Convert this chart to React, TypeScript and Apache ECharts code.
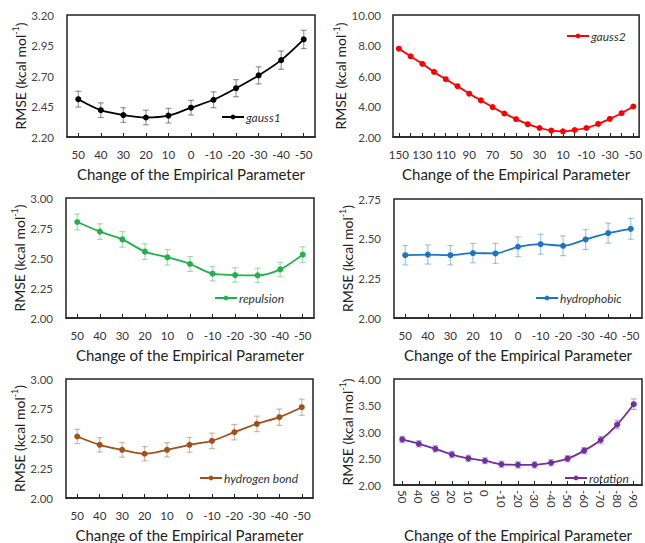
import React, { useEffect, useRef } from "react";
import * as echarts from "echarts";

const cats11 = ["50", "40", "30", "20", "10", "0", "-10", "-20", "-30", "-40", "-50"];
const cats21 = ["150", "140", "130", "120", "110", "100", "90", "80", "70", "60", "50", "40", "30", "20", "10", "0", "-10", "-20", "-30", "-40", "-50"];
const cats15 = ["50", "40", "30", "20", "10", "0", "-10", "-20", "-30", "-40", "-50", "-60", "-70", "-80", "-90"];

const gauss1 = [2.51, 2.42, 2.38, 2.36, 2.375, 2.44, 2.505, 2.6, 2.705, 2.83, 3.0];
const gauss1Err = [0.065, 0.06, 0.06, 0.06, 0.06, 0.06, 0.065, 0.07, 0.07, 0.075, 0.075];
const gauss2 = [7.79, 7.29, 6.8, 6.27, 5.79, 5.33, 4.84, 4.4, 3.96, 3.54, 3.17, 2.84, 2.59, 2.42, 2.37, 2.46, 2.59, 2.86, 3.19, 3.56, 4.0];
const repulsion = [2.8, 2.72, 2.655, 2.553, 2.506, 2.45, 2.369, 2.358, 2.355, 2.405, 2.528];
const repulsionErr = [0.066, 0.065, 0.065, 0.065, 0.065, 0.062, 0.06, 0.06, 0.06, 0.06, 0.066];
const hydrophobic = [2.396, 2.4, 2.396, 2.409, 2.407, 2.449, 2.465, 2.455, 2.495, 2.535, 2.562];
const hydrophobicErr = [0.061, 0.06, 0.061, 0.061, 0.063, 0.062, 0.063, 0.062, 0.063, 0.063, 0.066];
const hbond = [2.517, 2.447, 2.405, 2.372, 2.405, 2.447, 2.48, 2.553, 2.623, 2.679, 2.763];
const hbondErr = [0.06, 0.06, 0.062, 0.06, 0.06, 0.062, 0.065, 0.065, 0.065, 0.068, 0.068];
const rotation = [2.86, 2.777, 2.682, 2.575, 2.503, 2.458, 2.391, 2.38, 2.38, 2.42, 2.497, 2.648, 2.849, 3.14, 3.525];
const rotationErr = [0.06, 0.06, 0.06, 0.06, 0.06, 0.055, 0.06, 0.06, 0.06, 0.06, 0.06, 0.06, 0.07, 0.08, 0.1];

const FONT = "Lato";

type Panel = {
  name: string;
  color: string;
  errColor: string;
  cats: string[];
  values: number[];
  errs: number[] | null;
  yMin: number;
  yMax: number;
  yInt: number;
  grid: { left: number; top: number; width: number; height: number };
  legend: { left: number; top: number };
  labelInterval: number;
  rotate: number;
};

const panels: Panel[] = [
  {
    name: "gauss1", color: "#000000", errColor: "rgba(0,0,0,0.4)", cats: cats11, values: gauss1, errs: gauss1Err,
    yMin: 2.2, yMax: 3.2, yInt: 0.25, grid: { left: 67, top: 15, width: 248, height: 122 },
    legend: { left: 221, top: 111 }, labelInterval: 0, rotate: 0,
  },
  {
    name: "gauss2", color: "#ff0000", errColor: "rgba(255,0,0,0.4)", cats: cats21, values: gauss2, errs: null,
    yMin: 2, yMax: 10, yInt: 2, grid: { left: 393, top: 15, width: 249, height: 122 },
    legend: { left: 566, top: 30 }, labelInterval: 1, rotate: 0,
  },
  {
    name: "repulsion", color: "#22b14c", errColor: "rgba(34,177,76,0.4)", cats: cats11, values: repulsion, errs: repulsionErr,
    yMin: 2, yMax: 3, yInt: 0.25, grid: { left: 66, top: 198, width: 248, height: 120 },
    legend: { left: 214, top: 292 }, labelInterval: 0, rotate: 0,
  },
  {
    name: "hydrophobic", color: "#1b75c4", errColor: "rgba(27,117,196,0.4)", cats: cats11, values: hydrophobic, errs: hydrophobicErr,
    yMin: 2, yMax: 2.75, yInt: 0.25, grid: { left: 394, top: 199, width: 248, height: 119 },
    legend: { left: 535, top: 292 }, labelInterval: 0, rotate: 0,
  },
  {
    name: "hydrogen bond", color: "#a0501a", errColor: "rgba(160,80,26,0.4)", cats: cats11, values: hbond, errs: hbondErr,
    yMin: 2, yMax: 3, yInt: 0.25, grid: { left: 66, top: 379, width: 247, height: 119 },
    legend: { left: 199, top: 472 }, labelInterval: 0, rotate: 0,
  },
  {
    name: "rotation", color: "#7030a0", errColor: "rgba(112,48,160,0.4)", cats: cats15, values: rotation, errs: rotationErr,
    yMin: 2, yMax: 4, yInt: 0.5, grid: { left: 394, top: 379, width: 248, height: 119 },
    legend: { left: 564, top: 472 }, labelInterval: 0, rotate: -90,
  },
];

function buildOption() {
  const grid: any[] = [];
  const xAxis: any[] = [];
  const yAxis: any[] = [];
  const series: any[] = [];
  const legend: any[] = [];

  panels.forEach((p, i) => {
    grid.push({
      ...p.grid,
      show: true,
      borderColor: "#222",
      borderWidth: 1.5,
      backgroundColor: "transparent",
      containLabel: false,
    });
    xAxis.push({
      type: "category",
      gridIndex: i,
      data: p.cats,
      boundaryGap: true,
      axisLine: { show: true, lineStyle: { color: "#222", width: 1.5 } },
      axisTick: { show: true, inside: true, alignWithLabel: true, interval: 0, length: 4, lineStyle: { color: "#222", width: 1 } },
      axisLabel: {
        interval: p.labelInterval,
        rotate: p.rotate,
        margin: p.rotate ? 5 : 11,
        color: "#333",
        fontSize: 11.5,
        fontFamily: FONT,
      },
      splitLine: { show: false },
      name: "Change of the Empirical Parameter",
      nameLocation: "middle",
      nameGap: p.rotate ? 42 : 29,
      nameTextStyle: { color: "#222", fontSize: 15, fontFamily: FONT },
    });
    yAxis.push({
      type: "value",
      gridIndex: i,
      min: p.yMin,
      max: p.yMax,
      interval: p.yInt,
      axisLine: { show: false },
      axisTick: { show: false },
      splitLine: { show: false },
      axisLabel: {
        color: "#444",
        fontSize: 11.5,
        fontFamily: FONT,
        margin: p.yMax >= 10 ? 12 : 13,
        formatter: (v: number) => v.toFixed(2),
      },
      name: "{a|RMSE (kcal mol}{s|-1}{a|)}",
      nameLocation: "middle",
      nameGap: 36,
      nameRotate: 90,
      nameTextStyle: {
        rich: {
          a: { fontSize: 14, fontFamily: FONT, color: "#222", lineHeight: 16, verticalAlign: "bottom" },
          s: { fontSize: 9, fontFamily: FONT, color: "#222", lineHeight: 16, verticalAlign: "top" },
        },
      },
    });
    if (p.errs) {
      const errData = p.values.map((v, k) => [k, v - (p.errs as number[])[k], v + (p.errs as number[])[k]]);
      series.push({
        type: "custom",
        name: p.name + " err",
        xAxisIndex: i,
        yAxisIndex: i,
        z: 1,
        encode: { x: 0, y: [1, 2] },
        data: errData,
        renderItem: (params: any, api: any) => {
          const x = api.value(0);
          const lo = api.coord([x, api.value(1)]);
          const hi = api.coord([x, api.value(2)]);
          const w = 3;
          const style = { stroke: p.errColor, lineWidth: 1.2 };
          return {
            type: "group",
            children: [
              { type: "line", shape: { x1: lo[0], y1: lo[1], x2: hi[0], y2: hi[1] }, style },
              { type: "line", shape: { x1: lo[0] - w, y1: lo[1], x2: lo[0] + w, y2: lo[1] }, style },
              { type: "line", shape: { x1: hi[0] - w, y1: hi[1], x2: hi[0] + w, y2: hi[1] }, style },
            ],
          };
        },
      });
    }
    series.push({
      type: "line",
      name: p.name,
      xAxisIndex: i,
      yAxisIndex: i,
      z: 3,
      data: p.values,
      smooth: 0.3,
      symbol: "circle",
      symbolSize: 6,
      itemStyle: { color: p.color },
      lineStyle: { color: p.color, width: 1.8 },
    });
    legend.push({
      data: [p.name],
      left: p.legend.left,
      top: p.legend.top,
      padding: 0,
      itemWidth: 22,
      itemHeight: 6,
      itemGap: 2,
      textStyle: { fontStyle: "italic", fontSize: 12, fontFamily: FONT, color: "#333", padding: [0, 0, 0, -3] },
      selectedMode: false,
    });
  });

  return {
    animation: false,
    backgroundColor: "#ffffff",
    grid,
    xAxis,
    yAxis,
    series,
    legend,
  };
}

export default function App() {
  const ref = useRef<HTMLDivElement>(null);
  useEffect(() => {
    if (!ref.current) return;
    const chart = echarts.init(ref.current, undefined, { renderer: "svg" });
    chart.setOption(buildOption() as any);
    return () => chart.dispose();
  }, []);
  return (
    <div
      ref={ref}
      style={{ position: "fixed", left: 0, top: 0, width: 645, height: 543, background: "#fff" }}
    />
  );
}
